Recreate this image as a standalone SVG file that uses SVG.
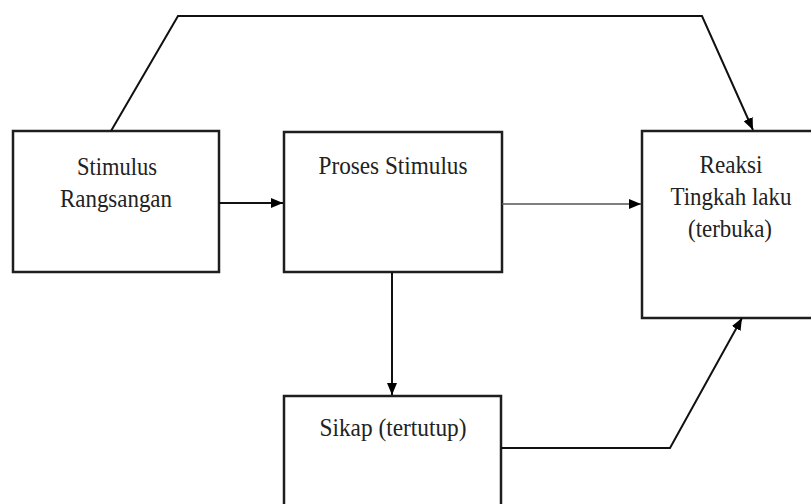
<svg xmlns="http://www.w3.org/2000/svg" width="811" height="504" viewBox="0 0 811 504">
<style>
.box{fill:#fff;stroke:#1e1e1e;stroke-width:2.5}
.lbl{font-family:'Liberation Serif','DejaVu Serif',serif;font-size:25px;fill:#222;text-anchor:middle}
.con{fill:none;stroke:#111;stroke-width:2}
</style>
<defs>
<marker id="ah" viewBox="0 0 12 10" refX="12" refY="5" markerWidth="12" markerHeight="10" markerUnits="userSpaceOnUse" orient="auto">
<path d="M0,0 L12,5 L0,10 Z" fill="#000"/>
</marker>
</defs>
<rect width="811" height="504" fill="#fff"/>
<g id="stimulus">
<rect class="box" x="13" y="131" width="206" height="141"/>
<text class="lbl" x="117" y="175" textLength="80" lengthAdjust="spacingAndGlyphs">Stimulus</text>
<text class="lbl" x="116" y="207" textLength="112" lengthAdjust="spacingAndGlyphs">Rangsangan</text>
</g>
<g id="proses">
<rect class="box" x="284" y="132" width="218" height="140"/>
<text class="lbl" x="393" y="174" textLength="149" lengthAdjust="spacingAndGlyphs">Proses Stimulus</text>
</g>
<g id="reaksi">
<rect class="box" x="642" y="131" width="172" height="187"/>
<text class="lbl" x="731" y="173" textLength="63" lengthAdjust="spacingAndGlyphs">Reaksi</text>
<text class="lbl" x="731" y="205" textLength="121" lengthAdjust="spacingAndGlyphs">Tingkah laku</text>
<text class="lbl" x="730" y="237" textLength="84" lengthAdjust="spacingAndGlyphs">(terbuka)</text>
</g>
<g id="sikap">
<rect class="box" x="284" y="396" width="217" height="115"/>
<text class="lbl" x="393" y="436" textLength="147" lengthAdjust="spacingAndGlyphs">Sikap (tertutup)</text>
</g>
<g id="connectors">
<path class="con" d="M219,203 L283,203" marker-end="url(#ah)"/>
<path class="con" d="M502,204 L641,204" style="stroke:#555;stroke-width:1.6" marker-end="url(#ah)"/>
<path class="con" d="M392,272 L392,395" marker-end="url(#ah)"/>
<path class="con" d="M501,448 L670,448 L742,318" marker-end="url(#ah)"/>
<path class="con" d="M111,131 L178,16 L702,16 L753,130" marker-end="url(#ah)"/>
</g>
</svg>
